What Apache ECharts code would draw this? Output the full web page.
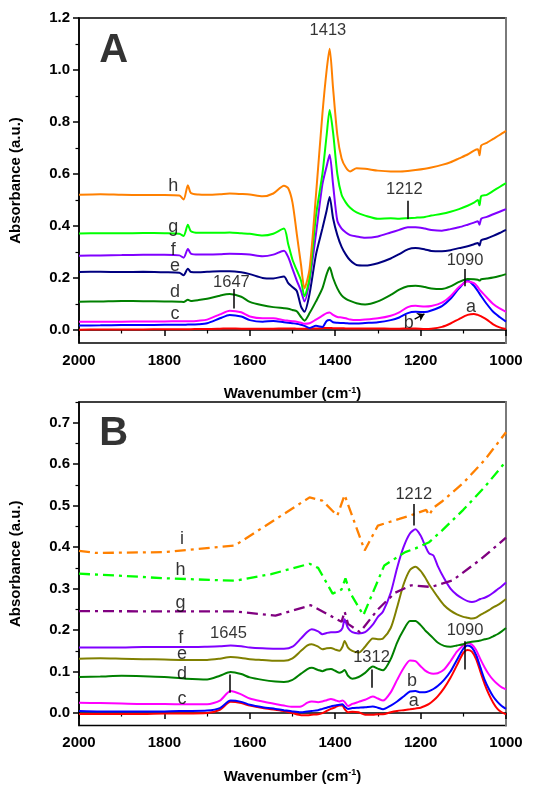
<!DOCTYPE html>
<html>
<head>
<meta charset="utf-8">
<script src="https://cdn.jsdelivr.net/npm/echarts@6/dist/echarts.min.js"></script>
<style>
  html, body { margin: 0; padding: 0; background: #fff; }
  #chart { width: 540px; height: 785px; }
</style>
</head>
<body>
<div id="chart"></div>
<script>
// ---------- Panel A: FTIR spectra (solid curves a–h) ----------
const wnA = [2000, 1950, 1900, 1850, 1800, 1765, 1755, 1745, 1738, 1720, 1700, 1670, 1647, 1620, 1600, 1570, 1545, 1520, 1510, 1500,
  1490, 1480, 1472, 1460, 1445, 1430, 1420, 1413, 1405, 1395, 1385, 1375, 1365, 1350, 1330, 1300, 1270, 1250, 1230, 1212,
  1190, 1175, 1150, 1130, 1110, 1090, 1075, 1066, 1062, 1058, 1045, 1030, 1015, 1000];

const A_h = [0.520, 0.522, 0.520, 0.519, 0.519, 0.517, 0.502, 0.557, 0.527, 0.521, 0.520, 0.522, 0.525, 0.523, 0.521, 0.514, 0.525, 0.555, 0.545, 0.490,
  0.370, 0.250, 0.160, 0.235, 0.520, 0.830, 1.000, 1.082, 0.930, 0.750, 0.660, 0.625, 0.610, 0.622, 0.620, 0.613, 0.610, 0.610, 0.612, 0.615,
  0.620, 0.625, 0.635, 0.645, 0.660, 0.675, 0.690, 0.695, 0.672, 0.710, 0.720, 0.735, 0.750, 0.766];
const A_g = [0.371, 0.372, 0.372, 0.373, 0.372, 0.370, 0.362, 0.405, 0.380, 0.374, 0.374, 0.374, 0.375, 0.372, 0.370, 0.363, 0.370, 0.390, 0.330, 0.270,
  0.230, 0.190, 0.130, 0.200, 0.440, 0.600, 0.750, 0.846, 0.760, 0.600, 0.520, 0.490, 0.470, 0.452, 0.440, 0.428, 0.430, 0.428, 0.430, 0.432,
  0.435, 0.440, 0.447, 0.455, 0.465, 0.478, 0.490, 0.500, 0.480, 0.515, 0.520, 0.535, 0.550, 0.565];
const A_f = [0.286, 0.287, 0.288, 0.289, 0.289, 0.287, 0.278, 0.312, 0.294, 0.290, 0.290, 0.291, 0.293, 0.292, 0.290, 0.284, 0.290, 0.305, 0.280, 0.235,
  0.190, 0.150, 0.110, 0.190, 0.370, 0.560, 0.630, 0.674, 0.560, 0.420, 0.390, 0.375, 0.365, 0.360, 0.355, 0.360, 0.375, 0.385, 0.395, 0.395,
  0.390, 0.385, 0.382, 0.388, 0.395, 0.405, 0.413, 0.418, 0.405, 0.428, 0.435, 0.445, 0.455, 0.465];
const A_e = [0.223, 0.224, 0.223, 0.224, 0.222, 0.220, 0.211, 0.236, 0.223, 0.222, 0.224, 0.226, 0.226, 0.222, 0.215, 0.200, 0.198, 0.206, 0.180, 0.165,
  0.150, 0.090, 0.070, 0.140, 0.290, 0.390, 0.460, 0.512, 0.430, 0.365, 0.320, 0.290, 0.268, 0.250, 0.248, 0.257, 0.275, 0.292, 0.310, 0.315,
  0.310, 0.304, 0.303, 0.307, 0.315, 0.322, 0.330, 0.335, 0.325, 0.345, 0.352, 0.362, 0.373, 0.385];
const A_d = [0.109, 0.110, 0.112, 0.111, 0.110, 0.109, 0.108, 0.116, 0.112, 0.115, 0.120, 0.132, 0.138, 0.128, 0.108, 0.095, 0.088, 0.084, 0.082, 0.077,
  0.072, 0.050, 0.036, 0.065, 0.110, 0.160, 0.215, 0.241, 0.200, 0.160, 0.133, 0.120, 0.112, 0.103, 0.098, 0.110, 0.135, 0.155, 0.168, 0.170,
  0.165, 0.160, 0.158, 0.168, 0.185, 0.196, 0.195, 0.193, 0.190, 0.195, 0.198, 0.202, 0.208, 0.215];
const A_c = [0.032, 0.032, 0.032, 0.033, 0.033, 0.034, 0.034, 0.034, 0.034, 0.036, 0.040, 0.060, 0.074, 0.068, 0.052, 0.045, 0.045, 0.038, 0.036, 0.034,
  0.032, 0.028, 0.024, 0.026, 0.040, 0.055, 0.065, 0.067, 0.058, 0.050, 0.048, 0.045, 0.040, 0.038, 0.040, 0.045, 0.055, 0.068, 0.088, 0.093,
  0.090, 0.092, 0.105, 0.130, 0.165, 0.187, 0.180, 0.165, 0.155, 0.148, 0.125, 0.100, 0.083, 0.070];
const A_b = [0.017, 0.018, 0.019, 0.019, 0.020, 0.020, 0.020, 0.021, 0.021, 0.022, 0.026, 0.045, 0.058, 0.052, 0.038, 0.032, 0.035, 0.030, 0.028, 0.026,
  0.024, 0.020, 0.016, 0.008, 0.016, 0.012, 0.035, 0.038, 0.030, 0.028, 0.027, 0.026, 0.025, 0.025, 0.027, 0.030, 0.038, 0.048, 0.065, 0.070,
  0.069, 0.075, 0.092, 0.120, 0.160, 0.190, 0.170, 0.150, 0.140, 0.130, 0.100, 0.070, 0.050, 0.032];
const A_a = [0.001, 0.002, 0.002, 0.002, 0.003, 0.003, 0.003, 0.003, 0.003, 0.004, 0.004, 0.005, 0.006, 0.005, 0.005, 0.005, 0.005, 0.006, 0.006, 0.006,
  0.005, 0.005, 0.005, 0.006, 0.006, 0.007, 0.008, 0.008, 0.007, 0.007, 0.007, 0.006, 0.006, 0.006, 0.006, 0.006, 0.005, 0.005, 0.006, 0.006,
  0.004, 0.005, 0.012, 0.025, 0.042, 0.058, 0.062, 0.058, 0.055, 0.052, 0.040, 0.022, 0.010, 0.004];

// ---------- Panel B: solid curves a–f ----------
const wnB = [2000, 1950, 1900, 1850, 1800, 1750, 1700, 1670, 1645, 1620, 1600, 1570, 1540, 1520, 1500, 1480, 1465, 1455, 1440, 1430,
  1420, 1410, 1400, 1390, 1383, 1378, 1370, 1360, 1345, 1330, 1312, 1300, 1288, 1270, 1255, 1240, 1225, 1212, 1200, 1190,
  1180, 1170, 1160, 1145, 1130, 1115, 1100, 1090, 1080, 1070, 1060, 1050, 1040, 1030, 1020, 1010, 1000];

const B_f = [0.158, 0.158, 0.158, 0.159, 0.159, 0.159, 0.160, 0.161, 0.163, 0.161, 0.158, 0.156, 0.155, 0.155, 0.160, 0.180, 0.196, 0.202, 0.197, 0.190,
  0.193, 0.195, 0.195, 0.197, 0.205, 0.226, 0.205, 0.195, 0.192, 0.195, 0.213, 0.232, 0.245, 0.290, 0.350, 0.400, 0.433, 0.443, 0.428, 0.405,
  0.385, 0.380, 0.355, 0.325, 0.300, 0.285, 0.275, 0.270, 0.268, 0.270, 0.275, 0.278, 0.283, 0.290, 0.298, 0.306, 0.315];
const B_e = [0.131, 0.132, 0.131, 0.130, 0.129, 0.128, 0.128, 0.131, 0.135, 0.133, 0.130, 0.128, 0.126, 0.126, 0.132, 0.150, 0.163, 0.166, 0.160, 0.154,
  0.156, 0.157, 0.153, 0.150, 0.160, 0.174, 0.158, 0.150, 0.146, 0.160, 0.180, 0.178, 0.180, 0.205, 0.255, 0.310, 0.345, 0.353, 0.343, 0.328,
  0.310, 0.295, 0.280, 0.260, 0.247, 0.238, 0.232, 0.230, 0.228, 0.230, 0.237, 0.242, 0.248, 0.255, 0.260, 0.267, 0.275];
const B_d = [0.087, 0.088, 0.090, 0.089, 0.087, 0.083, 0.081, 0.090, 0.099, 0.094, 0.086, 0.080, 0.076, 0.075, 0.080, 0.095, 0.106, 0.109, 0.104, 0.101,
  0.105, 0.106, 0.102, 0.097, 0.100, 0.104, 0.090, 0.083, 0.087, 0.097, 0.112, 0.107, 0.103, 0.130, 0.170, 0.200, 0.222, 0.222, 0.212, 0.200,
  0.190, 0.180, 0.170, 0.162, 0.160, 0.163, 0.166, 0.170, 0.172, 0.173, 0.175, 0.178, 0.180, 0.185, 0.190, 0.197, 0.205];
const B_c = [0.025, 0.024, 0.023, 0.022, 0.022, 0.021, 0.021, 0.030, 0.053, 0.045, 0.035, 0.028, 0.022, 0.018, 0.015, 0.016, 0.025, 0.028, 0.026, 0.028,
  0.031, 0.034, 0.031, 0.028, 0.030, 0.027, 0.017, 0.022, 0.027, 0.032, 0.040, 0.035, 0.030, 0.050, 0.080, 0.108, 0.127, 0.125, 0.113, 0.103,
  0.097, 0.095, 0.096, 0.105, 0.125, 0.148, 0.163, 0.169, 0.165, 0.152, 0.130, 0.110, 0.093, 0.080, 0.070, 0.062, 0.057];
const B_b = [0.005, 0.004, 0.004, 0.004, 0.004, 0.005, 0.006, 0.012, 0.030, 0.027, 0.020, 0.014, 0.010, 0.007, 0.004, 0.002, 0.004, 0.005, 0.007, 0.010,
  0.013, 0.016, 0.018, 0.020, 0.021, 0.016, 0.010, 0.012, 0.013, 0.014, 0.016, 0.013, 0.009, 0.018, 0.028, 0.040, 0.052, 0.053, 0.050, 0.050,
  0.053, 0.058, 0.065, 0.080, 0.100, 0.128, 0.155, 0.163, 0.158, 0.140, 0.110, 0.080, 0.058, 0.040, 0.027, 0.017, 0.010];
const B_a = [-0.002, -0.002, -0.002, -0.002, -0.001, -0.001, 0.000, 0.008, 0.027, 0.024, 0.018, 0.012, 0.008, 0.005, 0.000, -0.005, -0.005, -0.004, -0.003, 0.000,
  0.005, 0.010, 0.014, 0.018, 0.018, 0.010, 0.002, 0.003, 0.002, -0.004, -0.004, -0.003, -0.003, 0.002, 0.005, 0.007, 0.009, 0.011, 0.013, 0.017,
  0.022, 0.030, 0.040, 0.060, 0.085, 0.115, 0.145, 0.152, 0.148, 0.130, 0.100, 0.070, 0.045, 0.025, 0.010, 0.002, -0.003];

// ---------- Panel B: dash-dot curves g, h, i ----------
const B_i_wn = [2000, 1960, 1800, 1635, 1460, 1430, 1395, 1378, 1331, 1300, 1250, 1214, 1187, 1180, 1170, 1150, 1100, 1050, 1000];
const B_i = [0.391, 0.386, 0.388, 0.404, 0.520, 0.512, 0.476, 0.526, 0.392, 0.452, 0.468, 0.480, 0.490, 0.477, 0.495, 0.510, 0.555, 0.610, 0.677];
const B_h_wn = [2000, 1900, 1800, 1635, 1550, 1460, 1440, 1406, 1385, 1376, 1365, 1334, 1285, 1236, 1212, 1180, 1150, 1100, 1050, 1000];
const B_h = [0.336, 0.331, 0.325, 0.319, 0.335, 0.360, 0.350, 0.288, 0.298, 0.325, 0.290, 0.236, 0.356, 0.388, 0.397, 0.412, 0.440, 0.490, 0.545, 0.607];
const B_g_wn = [2000, 1800, 1635, 1540, 1457, 1385, 1378, 1370, 1342, 1300, 1260, 1222, 1175, 1125, 1060, 1000];
const B_g = [0.246, 0.245, 0.245, 0.235, 0.260, 0.220, 0.245, 0.215, 0.195, 0.250, 0.290, 0.308, 0.304, 0.320, 0.370, 0.423];

// ---------- Annotations ----------
const annA_text = ['A', '1413', 'h', 'g', 'f', 'e', 'd', 'c', '1647', '1212', '1090', 'a', 'b'];
const annA_wn   = [1919, 1417, 1779, 1779, 1779, 1775, 1775, 1775, 1643, 1238, 1096, 1082, 1228];
const annA_abs  = [1.074, 1.151, 0.555, 0.395, 0.309, 0.245, 0.145, 0.062, 0.183, 0.542, 0.267, 0.090, 0.027];
const tickA_wn   = [1638, 1229, 1096];
const tickA_from = [0.158, 0.497, 0.235];
const tickA_to   = [0.083, 0.427, 0.168];
const arrowA = [[1214, 0.042], [1191, 0.062]];

const annB_text = ['B', 'i', 'h', 'g', 'f', 'e', 'd', 'c', '1645', '1312', '1212', '1090', 'b', 'a'];
const annB_wn   = [1919, 1759, 1762, 1762, 1762, 1759, 1759, 1759, 1650, 1315, 1216, 1096, 1220, 1216];
const annB_abs  = [0.672, 0.420, 0.344, 0.266, 0.182, 0.142, 0.095, 0.035, 0.193, 0.133, 0.528, 0.198, 0.078, 0.029];
const tickB_wn   = [1647, 1315, 1216, 1096];
const tickB_from = [0.093, 0.105, 0.504, 0.173];
const tickB_to   = [0.049, 0.061, 0.452, 0.105];

// Axis tick values
const yTicksA = [0.0, 0.2, 0.4, 0.6, 0.8, 1.0, 1.2];
const yMinorA = [0.1, 0.3, 0.5, 0.7, 0.9, 1.1];
const yTicksB = [0.0, 0.1, 0.2, 0.3, 0.4, 0.5, 0.6, 0.7];
const yMinorB = [0.05, 0.15, 0.25, 0.35, 0.45, 0.55, 0.65, 0.75];

const FONT = '"Liberation Sans", Arial, Helvetica, sans-serif';
const COL = {
  orange: '#FF8000', green: '#00FF00', violet: '#8000FF', navy: '#000080',
  dgreen: '#008000', magenta: '#FF00FF', blue: '#0000FF', red: '#FF0000',
  olive: '#808000', purple: '#800080'
};

const chart = echarts.init(document.getElementById('chart'), null, { renderer: 'canvas' });

const grids = [
  { left: 77, top: 18, width: 429, height: 325, show: true, borderColor: '#000', borderWidth: 1.5 },
  { left: 77, top: 402, width: 429, height: 326, show: true, borderColor: '#000', borderWidth: 1.5 }
];

function xAxisFor(gi) {
  return {
    type: 'value', gridIndex: gi, min: 1000, max: 2000, interval: 200, inverse: true,
    name: '{t|Wavenumber (cm}{s|-1}{t|)}', nameLocation: 'middle', nameGap: 43,
    nameTextStyle: {
      rich: {
        t: { fontFamily: FONT, fontSize: 15, fontWeight: 'bold', color: '#000' },
        s: { fontFamily: FONT, fontSize: 9, fontWeight: 'bold', color: '#000', verticalAlign: 'top', padding: [0, 0, 7, 0] }
      }
    },
    axisLine: { show: true, lineStyle: { color: '#000', width: 1.5 } },
    axisTick: { show: true, inside: false, length: 6, lineStyle: { color: '#000', width: 1.5 } },
    minorTick: { show: true, splitNumber: 2, length: 3.5, lineStyle: { color: '#000', width: 1.2 } },
    axisLabel: { fontFamily: FONT, fontSize: 15, fontWeight: 'bold', color: '#000', margin: 10,
      formatter: v => String(Math.round(v)) },
    splitLine: { show: false }, minorSplitLine: { show: false }
  };
}

function yAxesFor(gi, min, max, major, minor, digits) {
  const base = { type: 'value', gridIndex: gi, min: min, max: max, splitLine: { show: false } };
  return [
    Object.assign({}, base, {
      position: 'left',
      name: 'Absorbance (a.u.)', nameLocation: 'middle', nameGap: 56, nameRotate: 90,
      nameTextStyle: { fontFamily: FONT, fontSize: 15, fontWeight: 'bold', color: '#000' },
      axisLine: { show: true, lineStyle: { color: '#000', width: 1.5 } },
      axisTick: { show: true, inside: false, length: 6, lineStyle: { color: '#000', width: 1.5 }, customValues: major },
      axisLabel: { fontFamily: FONT, fontSize: 15, fontWeight: 'bold', color: '#000', margin: 9,
        customValues: major, formatter: v => v.toFixed(digits) }
    }),
    Object.assign({}, base, {
      position: 'left', offset: 0,
      axisLine: { show: false },
      axisTick: { show: true, inside: false, length: 3.5, lineStyle: { color: '#000', width: 1.2 }, customValues: minor },
      axisLabel: { show: false }
    }),
    Object.assign({}, base, {
      position: 'right', offset: 0,
      axisLine: { show: true, lineStyle: { color: '#7a7a7a', width: 2 } },
      axisTick: { show: false }, axisLabel: { show: false }
    })
  ];
}

function pairs(xs, ys) { return xs.map((x, i) => [x, ys[i]]); }

function solid(name, xs, ys, color, gi) {
  return {
    name, type: 'line', xAxisIndex: gi, yAxisIndex: gi * 3,
    data: pairs(xs, ys), symbol: 'none', smooth: 0.25,
    lineStyle: { color, width: 2 }, silent: true, z: 3
  };
}

function dashDot(name, xs, ys, color, gi) {
  return {
    name, type: 'line', xAxisIndex: gi, yAxisIndex: gi * 3,
    data: pairs(xs, ys), symbol: 'none', smooth: false,
    lineStyle: { color, width: 2.3, type: [11, 5, 3, 5] }, silent: true, z: 3
  };
}

function annotations(texts, wns, abss, gi) {
  return {
    type: 'scatter', xAxisIndex: gi, yAxisIndex: gi * 3, symbolSize: 0.1, silent: true, z: 10,
    itemStyle: { color: 'rgba(0,0,0,0)' },
    data: texts.map((t, i) => {
      const big = (t === 'A' || t === 'B');
      return {
        value: [wns[i], abss[i]],
        label: {
          show: true, position: 'inside', formatter: t,
          fontFamily: FONT, color: '#000',
          textBorderWidth: 0, textBorderColor: 'transparent', textShadowBlur: 0,
          fontSize: big ? 40 : (t.length === 1 ? 18 : 16.5),
          fontWeight: big ? 'bold' : 'normal'
        }
      };
    })
  };
}

function tickMarks(wns, from, to, gi) {
  return {
    type: 'lines', coordinateSystem: 'cartesian2d', xAxisIndex: gi, yAxisIndex: gi * 3,
    silent: true, z: 9, symbol: 'none',
    lineStyle: { color: '#000', width: 1.5, opacity: 1 },
    data: wns.map((w, i) => ({ coords: [[w, from[i]], [w, to[i]]] }))
  };
}

const option = {
  animation: false,
  backgroundColor: '#fff',
  grid: grids,
  xAxis: [xAxisFor(0), xAxisFor(1)],
  yAxis: [].concat(
    yAxesFor(0, -0.05, 1.2, yTicksA, yMinorA, 1),
    yAxesFor(1, -0.03, 0.75, yTicksB, yMinorB, 1)
  ),
  series: [
    solid('a', wnA, A_a, COL.red, 0),
    solid('b', wnA, A_b, COL.blue, 0),
    solid('c', wnA, A_c, COL.magenta, 0),
    solid('d', wnA, A_d, COL.dgreen, 0),
    solid('e', wnA, A_e, COL.navy, 0),
    solid('f', wnA, A_f, COL.violet, 0),
    solid('g', wnA, A_g, COL.green, 0),
    solid('h', wnA, A_h, COL.orange, 0),
    annotations(annA_text, annA_wn, annA_abs, 0),
    tickMarks(tickA_wn, tickA_from, tickA_to, 0),
    {
      type: 'lines', coordinateSystem: 'cartesian2d', xAxisIndex: 0, yAxisIndex: 0,
      silent: true, z: 9, symbol: ['none', 'arrow'], symbolSize: 7,
      lineStyle: { color: '#000', width: 1.3, opacity: 1 },
      data: [{ coords: arrowA }]
    },

    solid('a', wnB, B_a, COL.red, 1),
    solid('b', wnB, B_b, COL.blue, 1),
    solid('c', wnB, B_c, COL.magenta, 1),
    solid('d', wnB, B_d, COL.dgreen, 1),
    solid('e', wnB, B_e, COL.olive, 1),
    solid('f', wnB, B_f, COL.violet, 1),
    dashDot('g', B_g_wn, B_g, COL.purple, 1),
    dashDot('h', B_h_wn, B_h, COL.green, 1),
    dashDot('i', B_i_wn, B_i, COL.orange, 1),
    annotations(annB_text, annB_wn, annB_abs, 1),
    tickMarks(tickB_wn, tickB_from, tickB_to, 1)
  ]
};

chart.setOption(option);
</script>
</body>
</html>
